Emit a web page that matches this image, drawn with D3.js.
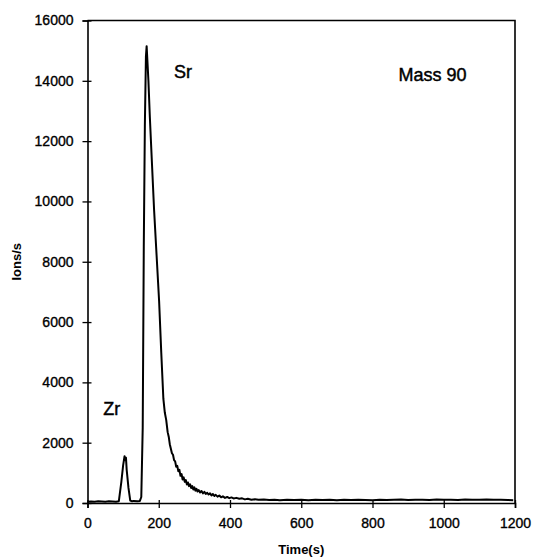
<!DOCTYPE html>
<html>
<head>
<meta charset="utf-8">
<script src="https://cdn.jsdelivr.net/npm/d3@7"></script>
<style>
  body { margin: 0; background: #fff; }
  text { font-family: Arial, "Liberation Sans", sans-serif; fill: #000; }
</style>
</head>
<body>
<script>
var w = 534;
var h = 558;

// time (s) and ion counts
var times = [0, 10, 20, 30, 40, 50, 60, 70, 80, 88,
  95, 100, 104, 106, 108, 110, 115, 120, 125, 130, 140, 147,
  151, 155, 158, 161, 164, 166, 168, 171, 175, 180, 187, 194, 201, 207, 213,
  217, 221, 225, 228, 231, 234, 237, 240, 243, 246, 249, 252, 255, 258, 261,
  264, 267, 270, 273, 276, 279, 282, 285, 288, 291, 294, 297, 300, 303, 306,
  309, 312, 316, 320, 324, 328, 332, 336, 340, 344, 348, 352, 356, 360, 365,
  370, 375, 380, 386, 392, 398, 404, 410, 418, 426, 434, 442, 450, 460, 470,
  480, 495, 510, 525, 540, 560, 580, 600, 620, 640, 660, 680, 700, 720,
  740, 760, 780, 800, 820, 840, 860, 880, 900, 920, 940, 960, 980, 1000, 1020,
  1040, 1060, 1080, 1100, 1120, 1140, 1160, 1180, 1195];
var ions = [40, 50, 45, 55, 50, 45, 55, 50, 45, 60,
  700, 1250, 1550, 1420, 1500, 1100, 500, 80, 60, 70, 60, 70,
  200, 2500, 8500, 12500, 14800, 15150, 14700, 14000, 12800, 11500, 9700, 8200, 6700, 5000, 3450,
  3000, 2750, 2350, 2200, 1950, 1800, 1650, 1600, 1420, 1380, 1200, 1230, 1050, 1100, 900,
  960, 780, 850, 700, 760, 610, 680, 560, 620, 500, 560, 450, 520, 410, 470,
  380, 430, 350, 400, 320, 370, 300, 340, 280, 320, 250, 300, 230, 270, 210,
  250, 190, 220, 170, 200, 160, 185, 150, 170, 140, 155, 120, 140, 110, 125,
  105, 115, 100, 110, 95, 105, 100, 110, 95, 105, 100, 110, 95, 105, 100,
  110, 100, 95, 105, 100, 110, 115, 100, 105, 110, 100, 115, 105, 110, 100,
  115, 110, 105, 115, 110, 105, 100, 95, 90];

var xTicks = [0, 200, 400, 600, 800, 1000, 1200];
var yTicks = [0, 2000, 4000, 6000, 8000, 10000, 12000, 14000, 16000];

var labels = [
  {text: "Sr", t: 243, v: 14100},
  {text: "Zr", t: 44, v: 2920},
  {text: "Mass 90", t: 873, v: 13990}
];

var data = times.map(function (t, i) { return {t: t, v: ions[i]}; });

var svg = d3.select("body").append("svg")
  .attr("width", w)
  .attr("height", h);

var x = d3.scaleLinear().domain([0, 1200]).range([87.5, 515]);
var y = d3.scaleLinear().domain([0, 16000]).range([503, 20.5]);

// frame (top and right)
svg.append("path")
  .attr("d", "M" + x(0) + "," + y(16000) + "H" + x(1200) + "V" + y(0))
  .attr("fill", "none").attr("stroke", "#000").attr("stroke-width", 1.6);

var xAxis = svg.append("g")
  .attr("transform", "translate(0," + y(0) + ")")
  .call(d3.axisBottom(x).tickValues(xTicks).tickFormat(d3.format("d")).tickSize(5).tickPadding(10));

var yAxis = svg.append("g")
  .attr("transform", "translate(" + x(0) + ",0)")
  .call(d3.axisLeft(y).tickValues(yTicks).tickFormat(d3.format("d")).tickSize(5).tickPadding(9));

[xAxis, yAxis].forEach(function (a) {
  a.select(".domain").attr("stroke", "#000").attr("stroke-width", 1.6);
  a.selectAll(".tick line").attr("stroke", "#000").attr("stroke-width", 1.3);
  a.selectAll(".tick text")
    .attr("font-size", 14)
    .attr("font-family", "Arial, 'Liberation Sans', sans-serif")
    .attr("stroke", "#000").attr("stroke-width", 0.35);
});
xAxis.selectAll(".tick line").attr("y1", -3);
yAxis.selectAll(".tick line").attr("x1", 4);

var line = d3.line()
  .x(function (d) { return x(d.t); })
  .y(function (d) { return y(d.v); });

svg.append("path")
  .datum(data)
  .attr("d", line)
  .attr("fill", "none")
  .attr("stroke", "#000")
  .attr("stroke-width", 2)
  .attr("stroke-linejoin", "round");

svg.selectAll(".lbl")
  .data(labels)
  .enter().append("text")
  .attr("class", "lbl")
  .attr("x", function (d) { return x(d.t); })
  .attr("y", function (d) { return y(d.v); })
  .attr("font-size", 18)
  .attr("stroke", "#000").attr("stroke-width", 0.45)
  .text(function (d) { return d.text; });

svg.append("text")
  .attr("x", (x(0) + x(1200)) / 2)
  .attr("y", 554)
  .attr("text-anchor", "middle")
  .attr("font-size", 13)
  .attr("font-weight", "bold")
  .text("Time(s)");

svg.append("text")
  .attr("transform", "translate(21," + y(8000) + ") rotate(-90)")
  .attr("text-anchor", "middle")
  .attr("font-size", 13)
  .attr("font-weight", "bold")
  .text("Ions/s");
</script>
</body>
</html>
